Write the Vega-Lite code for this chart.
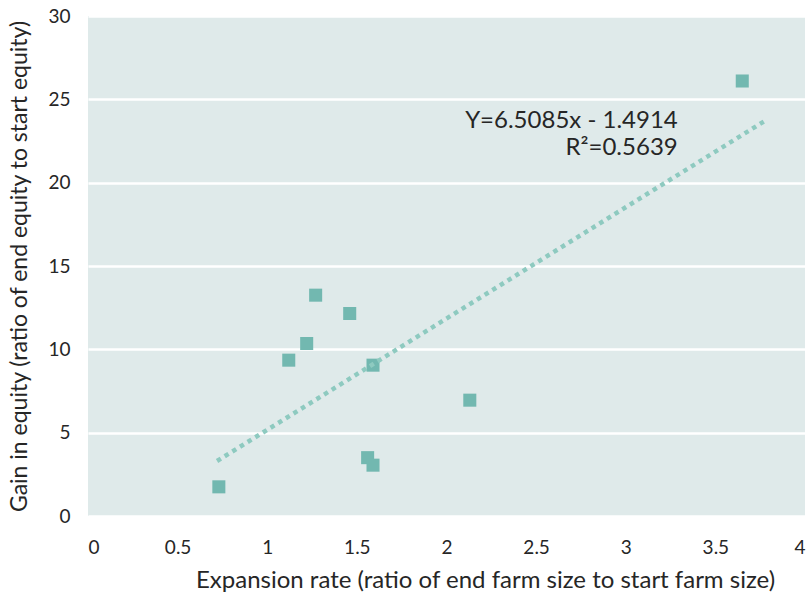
{
  "$schema": "https://vega.github.io/schema/vega-lite/v6.json",
  "width": 717,
  "height": 500,
  "autosize": "none",
  "padding": {"left": 88, "top": 16, "right": 4, "bottom": 82},
  "background": "#ffffff",
  "config": {
    "view": {"fill": "#dfeaea", "stroke": null},
    "font": "Lato",
    "axis": {"labelColor": "#262626", "titleColor": "#262626", "labelFont": "Lato", "titleFont": "Lato", "titleFontWeight": "normal"}
  },
  "layer": [
    {
      "data": {"values": [
        {"x": 0.73, "y": 1.75},
        {"x": 1.12, "y": 9.35},
        {"x": 1.22, "y": 10.35},
        {"x": 1.27, "y": 13.25},
        {"x": 1.46, "y": 12.15},
        {"x": 1.59, "y": 9.05},
        {"x": 1.56, "y": 3.5},
        {"x": 1.59, "y": 3.05},
        {"x": 2.13, "y": 6.95},
        {"x": 3.65, "y": 26.1}
      ]},
      "mark": {"type": "square", "size": 170, "color": "#72b8b0", "opacity": 1, "filled": true},
      "encoding": {
        "x": {"field": "x", "type": "quantitative", "scale": {"domain": [0, 4], "nice": false},
          "axis": {"values": [0, 0.5, 1, 1.5, 2, 2.5, 3, 3.5, 4], "format": "~g", "grid": false, "domain": false, "ticks": false,
            "labelFontSize": 19, "labelPadding": 22, "title": "Expansion rate (ratio of end farm size to start farm size)", "titleFontSize": 24, "titlePadding": 11, "titleX": 397, "titleAlign": "center"}},
        "y": {"field": "y", "type": "quantitative", "scale": {"domain": [0, 30], "nice": false},
          "axis": {"values": [0, 5, 10, 15, 20, 25, 30], "grid": true, "gridColor": "#ffffff", "gridWidth": 2.5, "gridOpacity": 1, "domain": false, "ticks": false,
            "labelFontSize": 19, "labelPadding": 18, "title": "Gain in equity (ratio of end equity to start equity)", "titleFontSize": 23, "titlePadding": 16}}
      }
    },
    {
      "data": {"values": [
        {"x": 0.72, "y": 3.3},
        {"x": 3.79, "y": 23.8}
      ]},
      "mark": {"type": "line", "color": "#8ecac0", "strokeWidth": 4.5, "strokeDash": [4.5, 4.5]},
      "encoding": {
        "x": {"field": "x", "type": "quantitative"},
        "y": {"field": "y", "type": "quantitative"}
      }
    },
    {
      "data": {"values": [
        {"x": 3.29, "y": 23.7, "t": "Y=6.5085x - 1.4914"},
        {"x": 3.29, "y": 22.1, "t": "R²=0.5639"}
      ]},
      "mark": {"type": "text", "align": "right", "baseline": "middle", "fontSize": 24, "color": "#262626", "font": "Lato"},
      "encoding": {
        "x": {"field": "x", "type": "quantitative"},
        "y": {"field": "y", "type": "quantitative"},
        "text": {"field": "t"}
      }
    }
  ]
}
